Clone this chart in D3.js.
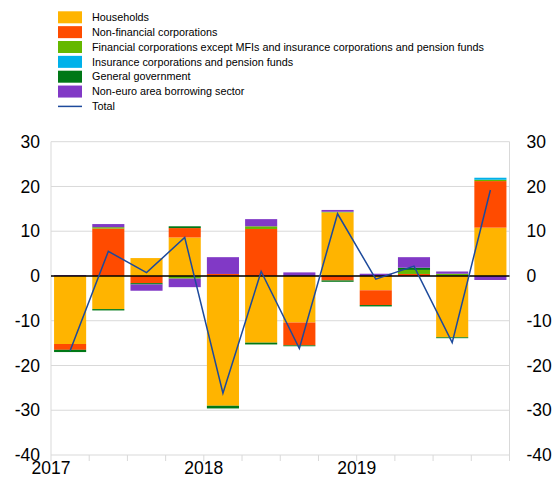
<!DOCTYPE html>
<html>
<head>
<meta charset="utf-8">
<script src="https://cdn.jsdelivr.net/npm/d3@7"></script>
<style>
  body { margin: 0; background: #fff; }
  svg { display: block; font-family: Arial, "Liberation Sans", sans-serif; }
</style>
</head>
<body>
<div id="chart"></div>
<script>
// quarters 2017Q1 .. 2019Q4
const quarters = ["2017Q1","2017Q2","2017Q3","2017Q4","2018Q1","2018Q2","2018Q3","2018Q4","2019Q1","2019Q2","2019Q3","2019Q4"];
const yearLabels = [{q: 0, label: "2017"}, {q: 4, label: "2018"}, {q: 8, label: "2019"}];

const households   = [-15.2, -7.4, 4.0, 8.6, -29.0, -14.9, -10.4, 14.2, -3.2, 0, -13.7, 10.8];
const nonFinancial = [-1.3, 10.6, -1.6, 2.1, 0.45, 10.5, -5.1, -1.0, -3.3, 0.45, 0, 10.4];
const financial    = [0, 0.3, 0, -0.6, 0, 0.6, 0, 0.15, 0, 0.9, 0.5, 0.3];
const insurance    = [0, 0, 0, 0, 0, 0, 0, 0, 0, 0, 0, 0.45];
const government   = [-0.5, -0.3, -0.3, 0.4, -0.6, -0.4, -0.2, -0.3, -0.3, 0.5, -0.2, 0];
const nonEuro      = [0.2, 0.7, -1.4, -1.9, 3.75, 1.6, 0.8, 0.4, 0.5, 2.35, 0.5, -0.9];
const total        = [-16.7, 5.5, 0.75, 8.6, -26.2, 1.0, -16.2, 13.9, -0.7, 2.2, -14.9, 19.2];

const series = [
  {key: "Households", values: households, color: "#ffb400"},
  {key: "Non-financial corporations", values: nonFinancial, color: "#ff4b00"},
  {key: "Financial corporations except MFIs and insurance corporations and pension funds", values: financial, color: "#65b800"},
  {key: "Insurance corporations and pension funds", values: insurance, color: "#00b1ea"},
  {key: "General government", values: government, color: "#007816"},
  {key: "Non-euro area borrowing sector", values: nonEuro, color: "#8139c6"}
];

const width = 557, height = 477;
const margin = {top: 141.7, right: 47.5, bottom: 22, left: 51};

const svg = d3.select("#chart").append("svg")
  .attr("width", width)
  .attr("height", height);

// table for d3.stack
const table = quarters.map((q, i) => {
  const row = {q: q};
  series.forEach(s => row[s.key] = s.values[i]);
  return row;
});

const stacked = d3.stack()
  .keys(series.map(s => s.key))
  .offset(d3.stackOffsetDiverging)(table);

const x = d3.scaleBand()
  .domain(quarters)
  .range([margin.left, width - margin.right])
  .paddingInner(0.16)
  .paddingOuter(0.08);

const y = d3.scaleLinear()
  .domain([-40, 30])
  .range([height - margin.bottom, margin.top]);

const x0 = margin.left, x1 = width - margin.right;

// grid
svg.append("g")
  .selectAll("line")
  .data(d3.range(-40, 31, 10))
  .join("line")
  .attr("x1", x0).attr("x2", x1)
  .attr("y1", d => y(d)).attr("y2", d => y(d))
  .attr("stroke", "#d9d9d9")
  .attr("stroke-width", 1);

// plot borders left/right
svg.append("g")
  .selectAll("line")
  .data([x0, x1])
  .join("line")
  .attr("x1", d => d).attr("x2", d => d)
  .attr("y1", y(30)).attr("y2", y(-40))
  .attr("stroke", "#d9d9d9");

// quarter ticks at bottom
svg.append("g")
  .selectAll("line")
  .data(d3.range(0, quarters.length + 1))
  .join("line")
  .attr("x1", d => x0 + d * (x1 - x0) / quarters.length)
  .attr("x2", d => x0 + d * (x1 - x0) / quarters.length)
  .attr("y1", y(-40)).attr("y2", y(-40) + 6)
  .attr("stroke", "#d9d9d9");

// bars
svg.append("g")
  .selectAll("g")
  .data(stacked)
  .join("g")
  .attr("fill", (d, i) => series[i].color)
  .selectAll("rect")
  .data(d => d)
  .join("rect")
  .attr("x", d => x(d.data.q))
  .attr("width", x.bandwidth())
  .attr("y", d => y(Math.max(d[0], d[1])))
  .attr("height", d => Math.abs(y(d[0]) - y(d[1])));

// zero line
svg.append("line")
  .attr("x1", x0).attr("x2", x1)
  .attr("y1", y(0)).attr("y2", y(0))
  .attr("stroke", "#000")
  .attr("stroke-width", 1.5);

// total line
const line = d3.line()
  .x((d, i) => x(quarters[i]) + x.bandwidth() / 2)
  .y(d => y(d));

svg.append("path")
  .datum(total)
  .attr("d", line)
  .attr("fill", "none")
  .attr("stroke", "#1d4a9c")
  .attr("stroke-width", 1.5);

// y axis labels left and right
const yTicks = d3.range(-40, 31, 10);
svg.append("g")
  .selectAll("text")
  .data(yTicks)
  .join("text")
  .attr("x", x0 - 11)
  .attr("y", d => y(d))
  .attr("dy", "0.35em")
  .attr("text-anchor", "end")
  .attr("font-size", 17.5)
  .attr("fill", "#000")
  .text(d => d);

svg.append("g")
  .selectAll("text")
  .data(yTicks)
  .join("text")
  .attr("x", x1 + 17)
  .attr("y", d => y(d))
  .attr("dy", "0.35em")
  .attr("text-anchor", "start")
  .attr("font-size", 17.5)
  .attr("fill", "#000")
  .text(d => d);

// x labels at year boundaries
svg.append("g")
  .selectAll("text")
  .data(yearLabels)
  .join("text")
  .attr("x", d => x0 + d.q * (x1 - x0) / quarters.length)
  .attr("y", 474)
  .attr("text-anchor", "middle")
  .attr("font-size", 17.5)
  .attr("fill", "#000")
  .text(d => d.label);

// legend
const legendItems = series.map(s => ({key: s.key, color: s.color, type: "rect"}))
  .concat([{key: "Total", color: "#1d4a9c", type: "line"}]);

const legend = svg.append("g")
  .selectAll("g")
  .data(legendItems)
  .join("g")
  .attr("transform", (d, i) => `translate(58, ${17.3 + i * 14.85})`);

legend.filter(d => d.type === "rect")
  .append("rect")
  .attr("x", 0).attr("y", -6)
  .attr("width", 24).attr("height", 12)
  .attr("fill", d => d.color);

legend.filter(d => d.type === "line")
  .append("line")
  .attr("x1", 0).attr("x2", 24)
  .attr("y1", 0).attr("y2", 0)
  .attr("stroke", d => d.color)
  .attr("stroke-width", 1.5);

legend.append("text")
  .attr("x", 34)
  .attr("dy", "0.35em")
  .attr("font-size", 10.8)
  .attr("fill", "#000")
  .text(d => d.key);
</script>
</body>
</html>
